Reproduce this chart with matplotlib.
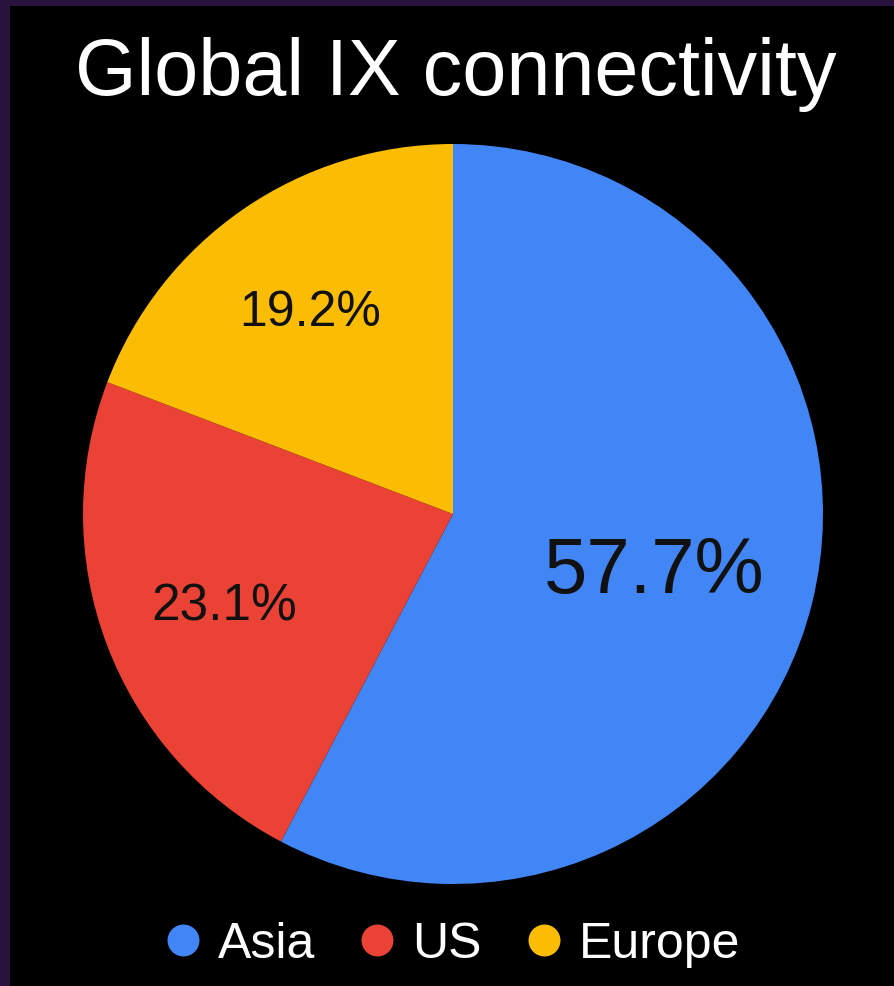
import matplotlib
matplotlib.use("Agg")
import matplotlib.pyplot as plt
from matplotlib.patches import Rectangle
from matplotlib.lines import Line2D
import numpy as np

plt.rcParams['font.family'] = ['Liberation Sans', 'DejaVu Sans']

# Data
categories = ["Asia", "US", "Europe"]
shares = [57.7, 23.1, 19.2]
colors = ["#4285F4", "#EA4335", "#FBBC04"]
title = "Global IX connectivity"

W, H = 894, 987
fig = plt.figure(figsize=(W / 100, H / 100), dpi=100)
fig.patch.set_facecolor("#28133d")
fig.patches.append(Rectangle((10 / W, 0), 1 - 10 / W, 1 - 7 / H,
                             transform=fig.transFigure, facecolor="black",
                             edgecolor="none", zorder=-10))

ax = fig.add_axes([83 / W, 102 / H, 740 / W, 740 / H])
ax.set_zorder(5)
ax.set_facecolor("none")
wedges, texts, autotexts = ax.pie(
    shares, colors=colors, startangle=90, counterclock=False,
    autopct=lambda p: f"{p:.1f}%", pctdistance=0.6,
    wedgeprops=dict(linewidth=0),
    textprops=dict(color="#111111"))
ax.set_xlim(-1, 1)
ax.set_ylim(-1, 1)
ax.set_aspect("equal")
ax.axis("off")

label_dist = [0.56, 0.66, 0.68]
label_size = [56, 37, 36]
for w, t, d, s in zip(wedges, autotexts, label_dist, label_size):
    ang = np.deg2rad((w.theta1 + w.theta2) / 2)
    t.set_position((d * np.cos(ang), d * np.sin(ang)))
    t.set_fontsize(s)
    t.set_verticalalignment("center_baseline")

fig.text(456 / W, 1 - 95 / H, title, ha="center", va="baseline",
         color="white", fontsize=57, zorder=6)

handles = [Line2D([0], [0], marker="o", linestyle="none", markersize=23,
                  markerfacecolor=c, markeredgecolor="none") for c in colors]
leg = fig.legend(handles, categories, loc="center", ncol=3,
                 bbox_to_anchor=(454 / W, 1 - 945 / H), frameon=False,
                 fontsize=36, handlelength=0.6, handletextpad=0.4,
                 columnspacing=0.94, borderpad=0, borderaxespad=0)
leg.set_zorder(6)
for t in leg.get_texts():
    t.set_color("white")

fig.savefig("out.png", dpi=100, facecolor=fig.get_facecolor())
